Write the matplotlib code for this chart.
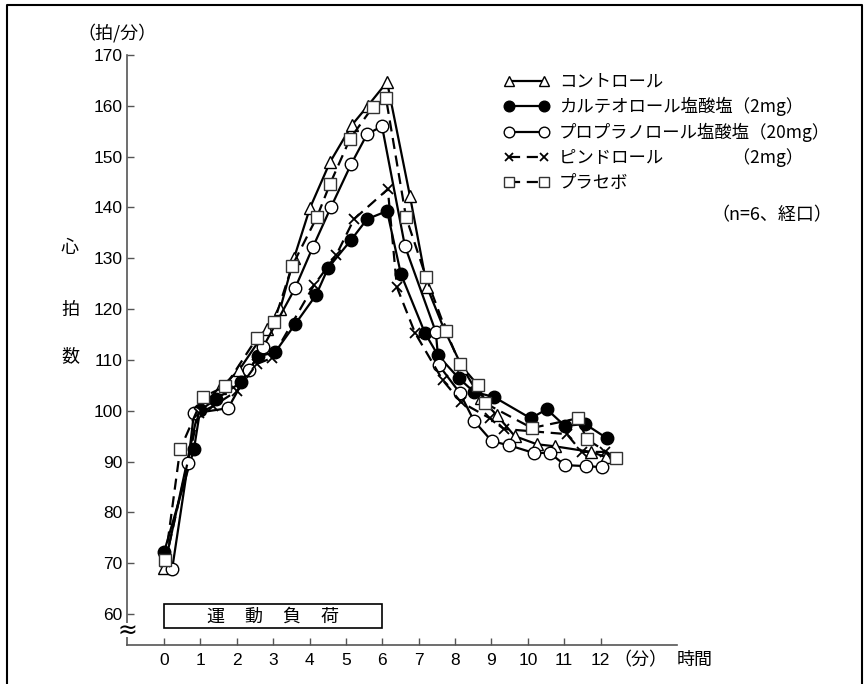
import matplotlib.pyplot as plt
from matplotlib.patches import Rectangle
from matplotlib.lines import Line2D

plt.rcParams['font.family'] = ['Liberation Sans', 'Noto Sans CJK JP']
JP = ['Noto Sans CJK JP']

# heart rate (beats/min), time in minutes
t_ctrl = [0.0, 0.95, 1.55, 2.06, 2.83, 3.19, 3.57, 4.01, 4.56, 5.16, 5.6, 6.13, 6.76, 7.23, 7.7, 8.2, 8.7, 9.15, 9.64, 10.25, 10.74, 11.73, 12.14]
hr_ctrl = [69.0, 100.5, 104.5, 108.0, 116.1, 120.0, 130.0, 139.9, 148.9, 156.2, 160.0, 164.7, 142.2, 124.3, 116.0, 108.5, 102.5, 99.1, 95.0, 93.4, 93.0, 91.9, 90.9]

t_carte = [0.0, 0.82, 0.99, 1.43, 2.12, 2.58, 3.05, 3.60, 4.18, 4.51, 5.14, 5.58, 6.13, 6.51, 7.17, 7.53, 8.10, 8.52, 9.07, 10.08, 10.52, 11.02, 11.57, 12.17]
hr_carte = [72.2, 92.4, 100.1, 102.3, 105.6, 110.7, 111.5, 117.0, 122.8, 128.1, 133.6, 137.7, 139.3, 126.9, 115.3, 110.9, 106.4, 103.7, 102.7, 98.5, 100.3, 97.0, 97.4, 94.6]

t_propr = [0.22, 0.66, 0.82, 1.76, 2.34, 2.72, 3.60, 4.09, 4.59, 5.14, 5.58, 5.99, 6.62, 7.47, 7.55, 8.13, 8.52, 9.01, 9.48, 10.16, 10.60, 11.02, 11.59, 12.03]
hr_propr = [68.8, 89.7, 99.5, 100.5, 108.0, 112.5, 124.1, 132.2, 140.1, 148.5, 154.4, 156.0, 132.4, 115.5, 109.0, 103.5, 98.0, 94.0, 93.2, 91.7, 91.7, 89.3, 89.1, 88.9]

t_pindo = [0.03, 0.95, 1.35, 2.0, 2.55, 2.97, 4.12, 4.73, 5.22, 6.15, 6.40, 6.9, 7.66, 8.16, 8.96, 9.34, 11.07, 11.48, 12.12]
hr_pindo = [70.2, 99.5, 100.9, 103.9, 109.2, 110.4, 124.7, 130.6, 137.7, 143.6, 124.3, 115.3, 106.0, 101.7, 98.5, 96.4, 95.4, 91.9, 91.9]

t_plac = [0.03, 0.44, 1.07, 1.68, 2.55, 3.02, 3.52, 4.20, 4.56, 5.11, 5.74, 6.10, 6.65, 7.20, 7.75, 8.13, 8.63, 8.82, 10.11, 11.37, 11.62, 12.42]
hr_plac = [70.6, 92.4, 102.7, 104.8, 114.3, 117.4, 128.5, 138.1, 144.6, 153.5, 159.8, 161.5, 138.1, 126.3, 115.7, 109.2, 105.0, 101.5, 96.6, 98.5, 94.4, 90.7]

x_ticks = list(range(0, 13))
y_ticks = list(range(60, 171, 10))

W, H = 866, 684
fig = plt.figure(figsize=(W / 100, H / 100), dpi=100)

# overlay in pixel coordinates for frame and loose labels
ov = fig.add_axes([0, 0, 1, 1], zorder=3)
ov.set_xlim(0, W)
ov.set_ylim(H, 0)
ov.axis('off')
ov.patch.set_alpha(0)

ax = fig.add_axes([127 / W, 1 - 645 / H, 550 / W, 590 / H], zorder=2)
ax.patch.set_alpha(0)
ax.set_xlim(-1.02, 14.1)
ax.set_ylim(53.9, 170)
for s in ['top', 'right']:
    ax.spines[s].set_visible(False)
for s in ['left', 'bottom']:
    ax.spines[s].set_color('#555555')
    ax.spines[s].set_linewidth(1.2)
ax.set_xticks(x_ticks)
ax.set_yticks(y_ticks)
ax.tick_params(direction='in', length=5, width=1, color='#555555', labelsize=12.5)
ax.tick_params(axis='x', pad=6)
ax.tick_params(axis='y', pad=3)

lw = 1.6
ax.plot(t_ctrl, hr_ctrl, '-', color='k', lw=lw, marker='^', ms=9, mfc='white', mec='k', mew=1,
        label='コントロール', clip_on=False)
ax.plot(t_carte, hr_carte, '-', color='k', lw=lw, marker='o', ms=9, mfc='k', mec='k',
        label='カルテオロール塩酸塩（2mg）', clip_on=False)
ax.plot(t_propr, hr_propr, '-', color='k', lw=lw, marker='o', ms=9, mfc='white', mec='k', mew=1,
        label='プロプラノロール塩酸塩（20mg）', clip_on=False)
ax.plot(t_pindo, hr_pindo, '--', color='k', lw=lw, dashes=(5, 3), marker='x', ms=7, mec='k', mew=1.3,
        label='ピンドロール　　　　（2mg）', clip_on=False)
ax.plot(t_plac, hr_plac, '--', color='k', lw=lw, dashes=(5, 3), marker='s', ms=9, mfc='white', mec='#333333', mew=1,
        label='プラセボ', clip_on=False)

leg = ax.legend(loc='upper left', bbox_to_anchor=(488 / W, 1 - 57 / H), bbox_transform=fig.transFigure,
                frameon=False, numpoints=2, handlelength=2.6, handletextpad=0.6, labelspacing=0.37,
                markerscale=0.85, prop={'family': JP, 'size': 12.5})

# exercise load box
ax.add_patch(Rectangle((0, 57.2), 6, 4.7, fill=False, ec='k', lw=1.2, clip_on=False))
for xx, ch in zip([1.4, 2.45, 3.5, 4.55], '運動負荷'):
    ax.text(xx, 59.5, ch, ha='center', va='center', fontsize=13, family=JP)

# axis break mark
ov.add_patch(Rectangle((118, 623), 18, 14, fc='white', ec='none'))
ov.text(127, 631, '≈', ha='center', va='center', fontsize=17, family=['DejaVu Sans'])

# labels
ov.text(117, 33, '（拍/分）', ha='center', va='center', fontsize=13, family=JP)
for yy, ch in zip([248, 310, 356], '心拍数'):
    ov.text(70, yy, ch, ha='center', va='center', fontsize=13, family=JP)
ov.text(640, 660, '（分）', ha='center', va='center', fontsize=13, family=JP)
ov.text(695, 660, '時間', ha='center', va='center', fontsize=13, family=JP)
ov.text(772, 215, '（n=6、経口）', ha='center', va='center', fontsize=13, family=JP)

# outer frame
ov.add_line(Line2D([7, 7, 862, 862], [H + 5, 5, 5, H + 5], color='k', lw=1.5))

fig.savefig('out.png', dpi=100)
